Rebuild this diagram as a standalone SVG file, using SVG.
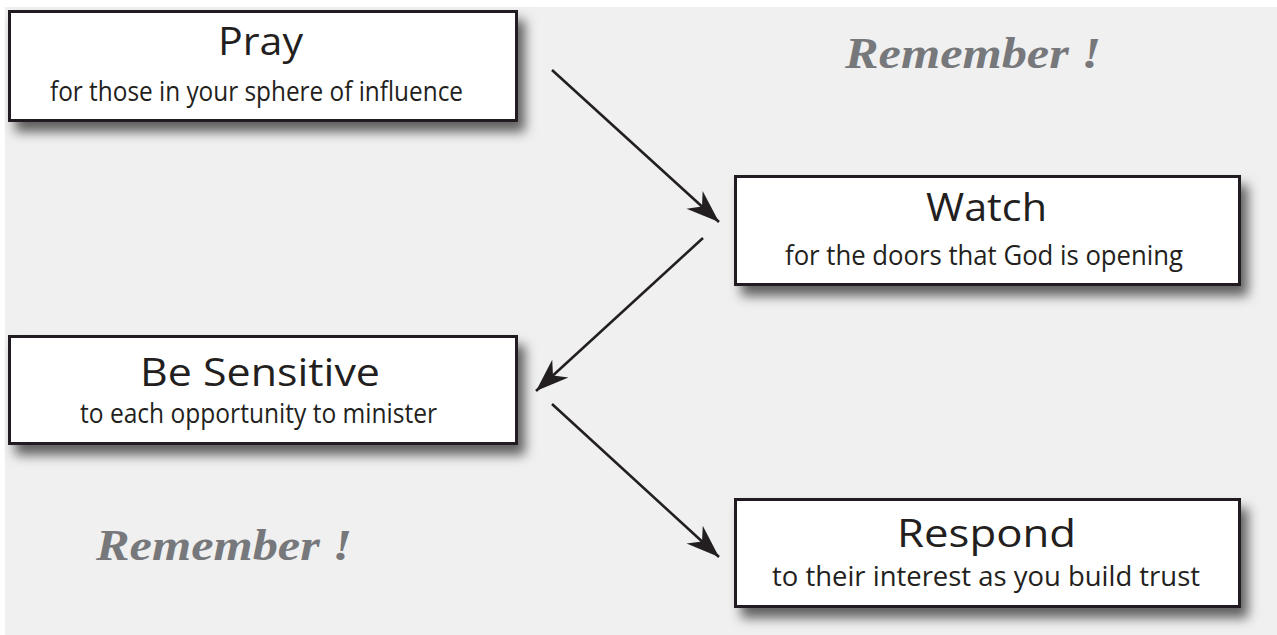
<svg xmlns="http://www.w3.org/2000/svg" width="1277" height="635" viewBox="0 0 1277 635">
<defs>
<filter id="sh" x="-10%" y="-20%" width="130%" height="170%">
<feDropShadow dx="7" dy="10" stdDeviation="6" flood-color="#000" flood-opacity="0.6"/>
</filter>
<marker id="ah" markerUnits="userSpaceOnUse" markerWidth="40" markerHeight="30" viewBox="-34 -15 40 30" refX="0" refY="0" orient="auto">
<path d="M0,0 L-33,-12 L-23,0 L-33,12 Z" fill="#231f20"/>
</marker>
<style>
.box{fill:#fff;stroke:#231f20;stroke-width:3;filter:url(#sh)}
.t{font-family:"Open Sans","Noto Sans",sans-serif;fill:#231f20;text-anchor:middle}
.h{font-size:39px}
.s{font-size:27px}
.rem{font-family:"Liberation Serif",serif;font-weight:bold;font-style:italic;font-size:45px;fill:#77787b}
.c{stroke:#231f20;stroke-width:2.6;fill:none;marker-end:url(#ah)}
</style>
</defs>
<rect x="0" y="0" width="1277" height="635" fill="#fff"/>
<rect x="5" y="7" width="1272" height="628" fill="#f0f0f0"/>
<g id="pray">
<rect class="box" x="9.5" y="11.5" width="507" height="109"/>
<text class="t h" x="260.5" y="55" textLength="85" lengthAdjust="spacingAndGlyphs">Pray</text>
<text class="t s" x="256.5" y="101" textLength="413" lengthAdjust="spacingAndGlyphs">for those in your sphere of influence</text>
</g>
<g id="watch">
<rect class="box" x="735.5" y="176.5" width="504" height="108"/>
<text class="t h" x="986.5" y="221" textLength="121" lengthAdjust="spacingAndGlyphs">Watch</text>
<text class="t s" x="984" y="265" textLength="398" lengthAdjust="spacingAndGlyphs">for the doors that God is opening</text>
</g>
<g id="sensitive">
<rect class="box" x="9.5" y="336.5" width="507" height="107"/>
<text class="t h" x="260" y="386" textLength="240" lengthAdjust="spacingAndGlyphs">Be Sensitive</text>
<text class="t s" x="258.5" y="423" textLength="357" lengthAdjust="spacingAndGlyphs">to each opportunity to minister</text>
</g>
<g id="respond">
<rect class="box" x="735.5" y="499.5" width="504" height="107"/>
<text class="t h" x="986.5" y="547" textLength="179" lengthAdjust="spacingAndGlyphs">Respond</text>
<text class="t s" x="986" y="586" textLength="428" lengthAdjust="spacingAndGlyphs">to their interest as you build trust</text>
</g>
<g id="remember1">
<text class="rem" x="845" y="68" textLength="256" lengthAdjust="spacingAndGlyphs">Remember !</text>
</g>
<g id="remember2">
<text class="rem" x="96" y="560" textLength="256" lengthAdjust="spacingAndGlyphs">Remember !</text>
</g>
<g id="connectors">
<line class="c" x1="552" y1="70" x2="719" y2="222"/>
<line class="c" x1="703" y1="238" x2="536" y2="391"/>
<line class="c" x1="552" y1="404" x2="719" y2="557"/>
</g>
</svg>
